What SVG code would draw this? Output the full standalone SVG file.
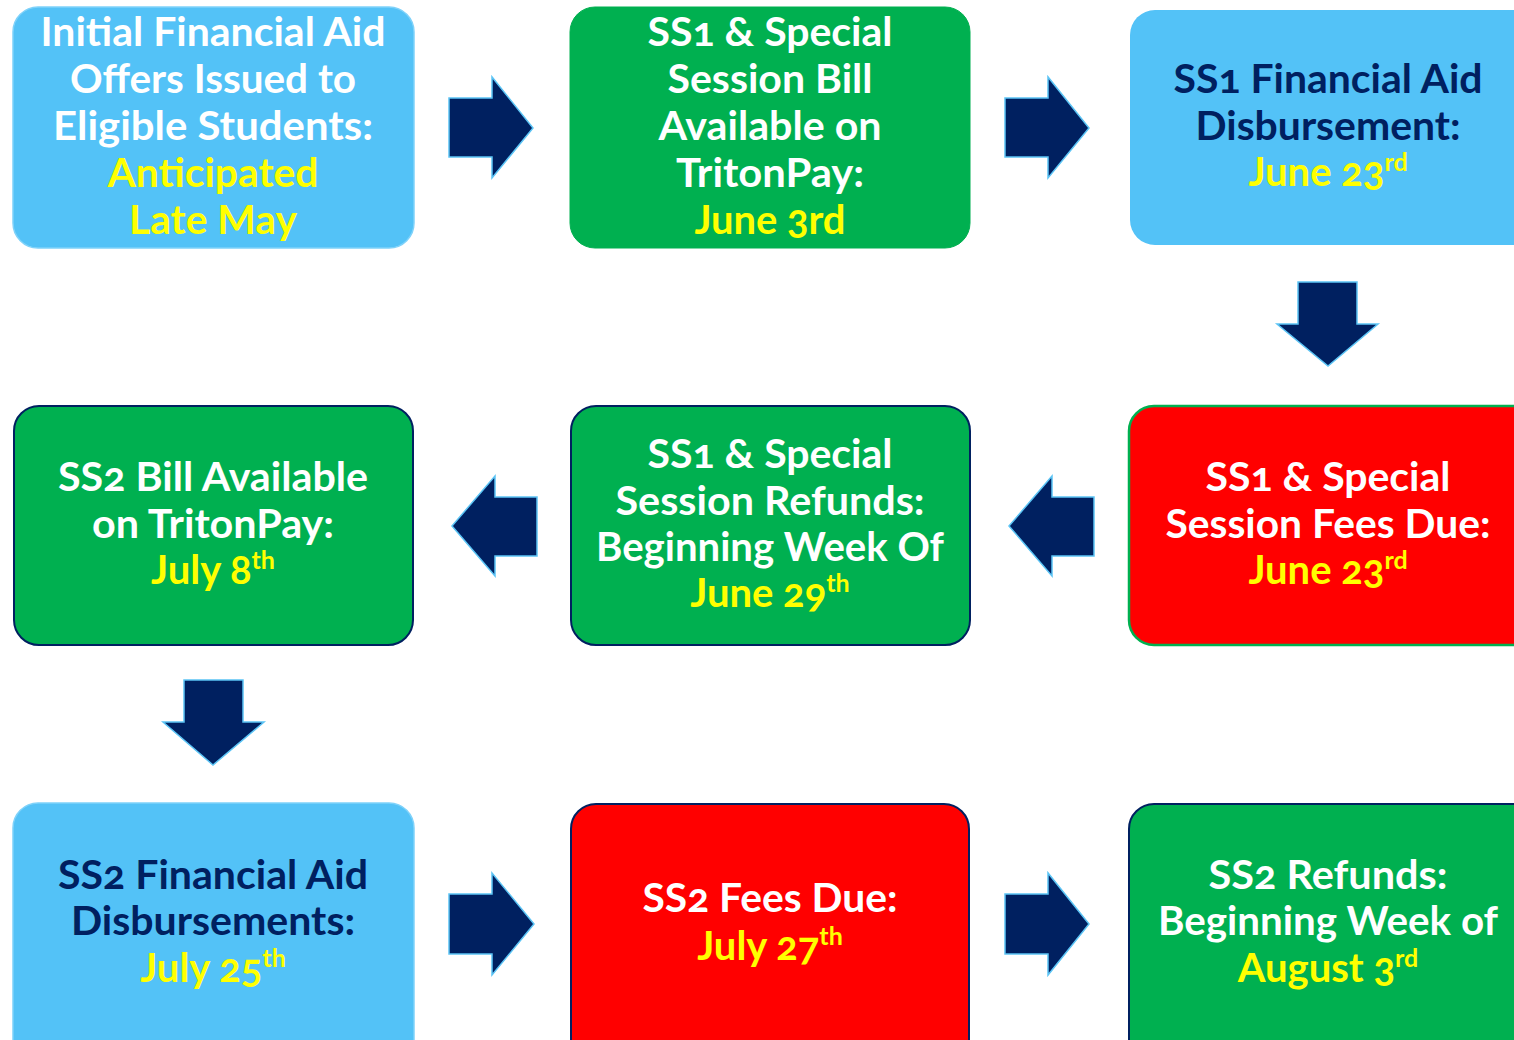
<svg xmlns="http://www.w3.org/2000/svg" width="1514" height="1040" viewBox="0 0 1514 1040">
<style>
.lb{fill:#53C2F7;stroke:#7FD2FA;stroke-width:1.5}
.gr{fill:#00B050;stroke:#00B050;stroke-width:1}
.grn{fill:#00B050;stroke:#002060;stroke-width:2}
.rdg{fill:#FF0000;stroke:#00B050;stroke-width:2.5}
.rdn{fill:#FF0000;stroke:#002060;stroke-width:2}
.arr{fill:#002060;stroke:#5BC4F5;stroke-width:1.5;stroke-linejoin:miter}
text{font-family:Lato,"Open Sans","Liberation Sans",sans-serif;font-weight:bold;font-size:40px;text-anchor:middle;font-feature-settings:"onum"}
.w{fill:#FFFFFF}
.n{fill:#002060}
.y{fill:#FFFF00}
.sup{font-size:25px}
</style>
<g id="connectors">
<polygon class="arr" points="449,98 492,98 492,77 533,128 492,178 492,157 449,157"/>
<polygon class="arr" points="1005,98 1048,98 1048,77 1089,128 1048,178 1048,157 1005,157"/>
<polygon class="arr" points="1298,282 1357,282 1357,324 1378,324 1328,366 1277,324 1298,324"/>
<polygon class="arr" points="1094,497 1052,497 1052,476 1009,526 1052,576 1052,556 1094,556"/>
<polygon class="arr" points="537,497 495,497 495,476 452,526 495,576 495,556 537,556"/>
<polygon class="arr" points="184,680 243,680 243,722 264,722 213,765 163,722 184,722"/>
<polygon class="arr" points="449,894 492,894 492,873 534,924 492,975 492,954 449,954"/>
<polygon class="arr" points="1005,894 1048,894 1048,873 1089,924 1048,975 1048,954 1005,954"/>
</g>
<g id="node1">
<rect class="lb" x="13" y="7" width="401" height="241" rx="25"/>
<text x="213" y="46" class="w" textLength="345" lengthAdjust="spacingAndGlyphs">Initial Financial Aid</text>
<text x="213" y="93" class="w" textLength="286" lengthAdjust="spacingAndGlyphs">Offers Issued to</text>
<text x="213" y="140" class="w" textLength="320" lengthAdjust="spacingAndGlyphs">Eligible Students:</text>
<text x="213" y="187" class="y" textLength="211" lengthAdjust="spacingAndGlyphs">Anticipated</text>
<text x="213" y="234" class="y" textLength="168" lengthAdjust="spacingAndGlyphs">Late May</text>
</g>
<g id="node2">
<rect class="gr" x="570" y="7" width="400" height="241" rx="25"/>
<text x="770" y="46" class="w" textLength="245" lengthAdjust="spacingAndGlyphs">SS1 &amp; Special</text>
<text x="770" y="93" class="w" textLength="205" lengthAdjust="spacingAndGlyphs">Session Bill</text>
<text x="770" y="140" class="w" textLength="223" lengthAdjust="spacingAndGlyphs">Available on</text>
<text x="770" y="187" class="w" textLength="188" lengthAdjust="spacingAndGlyphs">TritonPay:</text>
<text x="770" y="234" class="y" textLength="151" lengthAdjust="spacingAndGlyphs">June 3rd</text>
</g>
<g id="node3">
<rect class="lb" x="1130" y="10" width="410" height="235" rx="25" style="stroke:none"/>
<text x="1328" y="93" class="n" textLength="309" lengthAdjust="spacingAndGlyphs">SS1 Financial Aid</text>
<text x="1328" y="140" class="n" textLength="265" lengthAdjust="spacingAndGlyphs">Disbursement:</text>
<text x="1328" y="186" class="y">June 23<tspan class="sup" dy="-15">rd</tspan></text>
</g>
<g id="node4">
<rect class="rdg" x="1129" y="406" width="410" height="239" rx="25"/>
<text x="1328" y="491" class="w" textLength="245" lengthAdjust="spacingAndGlyphs">SS1 &amp; Special</text>
<text x="1328" y="538" class="w" textLength="325" lengthAdjust="spacingAndGlyphs">Session Fees Due:</text>
<text x="1328" y="584" class="y">June 23<tspan class="sup" dy="-15">rd</tspan></text>
</g>
<g id="node5">
<rect class="grn" x="571" y="406" width="399" height="239" rx="25"/>
<text x="770" y="468" class="w" textLength="245" lengthAdjust="spacingAndGlyphs">SS1 &amp; Special</text>
<text x="770" y="515" class="w" textLength="309" lengthAdjust="spacingAndGlyphs">Session Refunds:</text>
<text x="770" y="561" class="w" textLength="348" lengthAdjust="spacingAndGlyphs">Beginning Week Of</text>
<text x="770" y="607" class="y">June 29<tspan class="sup" dy="-15">th</tspan></text>
</g>
<g id="node6">
<rect class="grn" x="14" y="406" width="399" height="239" rx="25"/>
<text x="213" y="491" class="w" textLength="310" lengthAdjust="spacingAndGlyphs">SS2 Bill Available</text>
<text x="213" y="538" class="w" textLength="242" lengthAdjust="spacingAndGlyphs">on TritonPay:</text>
<text x="213" y="584" class="y">July 8<tspan class="sup" dy="-15">th</tspan></text>
</g>
<g id="node7">
<rect class="lb" x="13" y="803" width="401" height="262" rx="25"/>
<text x="213" y="889" class="n" textLength="310" lengthAdjust="spacingAndGlyphs">SS2 Financial Aid</text>
<text x="213" y="935" class="n" textLength="284" lengthAdjust="spacingAndGlyphs">Disbursements:</text>
<text x="213" y="982" class="y">July 25<tspan class="sup" dy="-15">th</tspan></text>
</g>
<g id="node8">
<rect class="rdn" x="571" y="804" width="398" height="262" rx="25"/>
<text x="770" y="912" class="w" textLength="255" lengthAdjust="spacingAndGlyphs">SS2 Fees Due:</text>
<text x="770" y="960" class="y">July 27<tspan class="sup" dy="-15">th</tspan></text>
</g>
<g id="node9">
<rect class="grn" x="1129" y="804" width="410" height="262" rx="25"/>
<text x="1328" y="889" class="w" textLength="239" lengthAdjust="spacingAndGlyphs">SS2 Refunds:</text>
<text x="1328" y="935" class="w" textLength="340" lengthAdjust="spacingAndGlyphs">Beginning Week of</text>
<text x="1328" y="982" class="y">August 3<tspan class="sup" dy="-15">rd</tspan></text>
</g>
</svg>
